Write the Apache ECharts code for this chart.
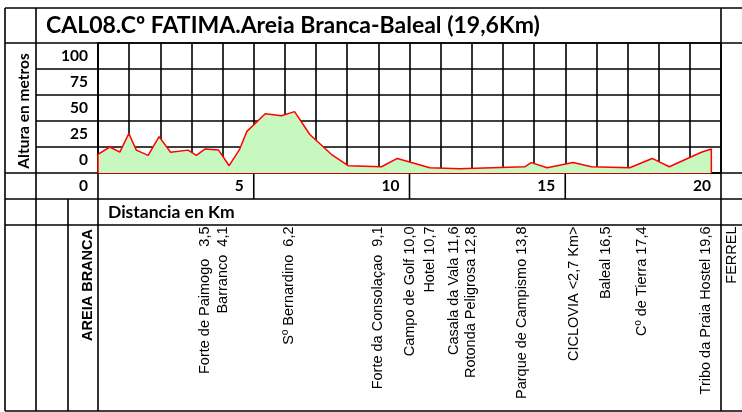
<!DOCTYPE html>
<html>
<head>
<meta charset="utf-8">
<script src="https://cdn.jsdelivr.net/npm/echarts@6/dist/echarts.min.js"></script>
<style>
  html, body { margin: 0; padding: 0; background: #ffffff; }
  #chart { width: 742px; height: 412px; }
</style>
</head>
<body>
<div id="chart"></div>
<script>
// Elevation profile of the stage (distance in km, altitude in metres)
const distanceKm = [0, 0.38, 0.70, 0.99, 1.23, 1.61, 1.96, 2.33, 2.89, 3.16, 3.43, 3.87, 4.21, 4.55, 4.78,
  5.37, 5.89, 6.31, 6.80, 7.49, 8.03, 9.10, 9.61, 10.65, 11.61, 13.70, 13.91, 14.42, 15.25, 15.84,
  17.07, 17.79, 18.34, 19.37, 19.69];
const altitudeM = [18, 25, 20, 38, 22, 17, 35, 20, 22, 17, 23, 22, 7, 23, 40,
  57, 55, 59, 37, 18, 7, 6, 14, 5, 4, 6, 10, 5, 10, 6,
  5, 14, 6, 20, 23];

// Tick labels
const altitudeTicks = ['0', '25', '50', '75', '100'];
const distanceTicks = ['0', '5', '10', '15', '20'];

// Texts
const titleText = 'CAL08.Cº FATIMA.Areia Branca-Baleal (19,6Km)';
const yTitle = 'Altura en metros';
const xTitle = 'Distancia en Km';
const startPlace = 'AREIA BRANCA';
const endPlace = 'FERREL';
const stops = [
  'Forte de Paimogo   3,5',
  'Barranco  4,1',
  'Sº Bernardino  6,2',
  'Forte da Consolaçao  9,1',
  'Campo de Golf 10,0',
  'Hotel 10,7',
  'Casala da Vala 11,6',
  'Rotonda Peligrosa 12,8',
  'Parque de Campismo 13,8',
  'CICLOVIA <2,7 Km>',
  'Baleal 16,5',
  'Cº de Tierra 17,4',
  'Tribo da Praia Hostel 19,6'
];

// ---- layout of the sheet-like frame ----
const G = { left: 98, top: 43, right: 721, bottom: 173 };
const rows = { top: 8, title: 43, axis: 173, dist: 199, names: 225, end: 411 };
const cols = { left: 5, c1: 36, c2: 68, plot: 98, right: 721, far: 742 };
const stopColumnX = [205, 223, 289, 377.5, 410, 430, 454, 470.5, 522, 574, 605.5, 642, 705.5];

const LINE = '#000000';
const LW = 1.6;
const calibriLike = 'Lato, "Open Sans", sans-serif';
const arialLike = '"Liberation Sans", Arial, sans-serif';

const chart = echarts.init(document.getElementById('chart'), null, { renderer: 'canvas' });

function hLine(y, x1, x2) {
  return { type: 'line', z: 1, silent: true, shape: { x1, y1: y, x2, y2: y }, style: { stroke: LINE, lineWidth: LW } };
}
function vLine(x, y1, y2) {
  return { type: 'line', z: 1, silent: true, shape: { x1: x, y1, x2: x, y2 }, style: { stroke: LINE, lineWidth: LW } };
}

const frame = [
  hLine(rows.top, cols.left, cols.far),
  hLine(rows.title, cols.left, cols.far),
  hLine(rows.axis, cols.left, cols.far),
  hLine(rows.dist, cols.left, cols.far),
  hLine(rows.names, cols.left, cols.far),
  hLine(rows.end, cols.left, cols.far),
  vLine(cols.left, rows.top, rows.end),
  vLine(cols.c1, rows.top, rows.end),
  vLine(cols.c2, rows.dist, rows.end),
  vLine(cols.plot, rows.title, rows.end),
  vLine(cols.right, rows.top, rows.end)
];

// row separators of the altitude label column
for (let k = 1; k < 5; k++) {
  const y = G.top + (G.bottom - G.top) * k / 5;
  frame.push(hLine(y, cols.c1, cols.plot));
}
// distance label cells every 5 km
for (let k = 1; k < 4; k++) {
  const x = G.left + (G.right - G.left) * k / 4;
  frame.push(vLine(x, rows.axis, rows.dist));
}

const texts = [
  {
    type: 'text', z: 10, silent: true, x: 46, y: 26,
    style: { text: titleText, font: 'bold 23px ' + calibriLike, fill: '#000', verticalAlign: 'middle' }
  },
  {
    type: 'text', z: 10, silent: true, x: 23.5, y: 111, rotation: Math.PI / 2,
    style: { text: yTitle, font: 'bold 15.5px ' + calibriLike, fill: '#000', align: 'center', verticalAlign: 'middle' }
  },
  {
    type: 'text', z: 10, silent: true, x: 108, y: 212.5,
    style: { text: xTitle, font: 'bold 17.5px ' + calibriLike, fill: '#000', align: 'left', verticalAlign: 'middle' }
  },
  {
    type: 'text', z: 10, silent: true, x: 88, y: 229, rotation: Math.PI / 2,
    style: { text: startPlace, font: 'bold 14.5px ' + arialLike, fill: '#000', align: 'right', verticalAlign: 'middle' }
  },
  {
    type: 'text', z: 10, silent: true, x: 731.5, y: 226.5, rotation: Math.PI / 2,
    style: { text: endPlace, font: '14.5px ' + arialLike, fill: '#000', align: 'right', verticalAlign: 'middle' }
  }
];
stops.forEach((s, i) => {
  texts.push({
    type: 'text', z: 10, silent: true, x: stopColumnX[i], y: 226.5, rotation: Math.PI / 2,
    style: { text: s, font: '14.5px ' + arialLike, fill: '#000', align: 'right', verticalAlign: 'middle' }
  });
});

const last = distanceKm.length - 1;
const profile = [[distanceKm[0], 0]]
  .concat(distanceKm.map((d, i) => [d, altitudeM[i]]))
  .concat([[distanceKm[last], 0]]);

const option = {
  animation: false,
  backgroundColor: '#ffffff',
  grid: { left: G.left, top: G.top, width: G.right - G.left, height: G.bottom - G.top, containLabel: false },
  xAxis: {
    type: 'value', min: 0, max: 20, interval: 1,
    axisLine: { show: true, lineStyle: { color: LINE, width: LW } },
    axisTick: { show: false },
    splitLine: { show: true, lineStyle: { color: LINE, width: LW } },
    axisLabel: {
      show: true, showMinLabel: true, showMaxLabel: true,
      margin: 5, align: 'right', padding: [0, 10, 0, 0],
      fontFamily: calibriLike, fontWeight: 'bold', fontSize: 15.5, color: '#000',
      formatter: (v) => (v % 5 === 0 ? distanceTicks[v / 5] : '')
    }
  },
  yAxis: [
    {
      type: 'value', min: 0, max: 125, interval: 25,
      axisLine: { show: true, lineStyle: { color: LINE, width: LW } },
      axisTick: { show: false },
      axisLabel: { show: false },
      splitLine: { show: true, lineStyle: { color: LINE, width: LW } }
    },
    {
      type: 'value', min: 0, max: 125, interval: 12.5, position: 'left',
      axisLine: { show: false }, axisTick: { show: false }, splitLine: { show: false },
      axisLabel: {
        show: true, margin: 10, showMinLabel: true, showMaxLabel: true,
        fontFamily: calibriLike, fontWeight: 'bold', fontSize: 15.5, color: '#000',
        formatter: (v) => {
          const k = (v - 12.5) / 25;
          return Number.isInteger(k) ? altitudeTicks[k] : '';
        }
      }
    }
  ],
  series: [
    {
      type: 'line',
      name: 'Altura',
      data: profile,
      showSymbol: false,
      symbol: 'none',
      z: 5,
      clip: false,
      lineStyle: { color: '#ff0000', width: 1.5 },
      areaStyle: { color: '#c6f8c0', opacity: 1 },
      markLine: {
        silent: true, symbol: 'none', label: { show: false },
        lineStyle: { color: '#ff0000', width: 1.5, type: 'solid' },
        data: [[{ coord: [distanceKm[0], 0] }, { coord: [distanceKm[last], 0] }]]
      }
    }
  ],
  graphic: frame.concat(texts)
};

chart.setOption(option);
</script>
</body>
</html>
